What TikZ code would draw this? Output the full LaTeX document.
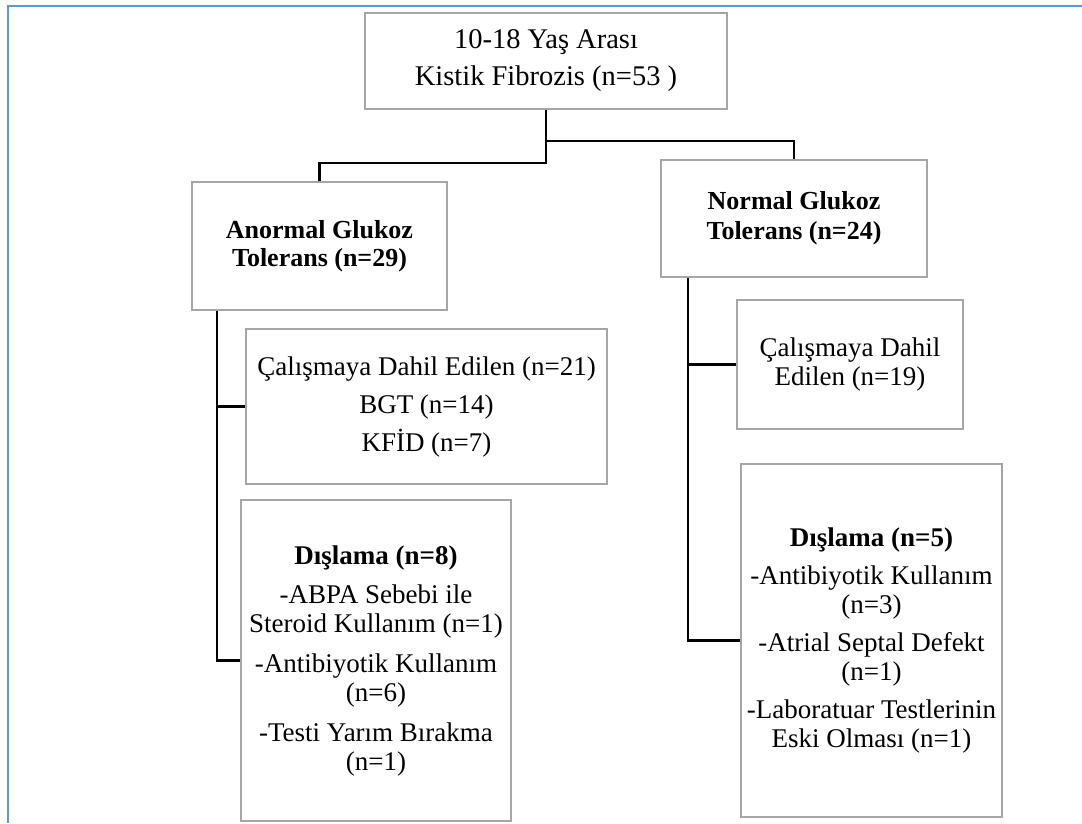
\documentclass[tikz,border=0pt]{standalone}
\usepackage{fontspec}
\setmainfont{Liberation Serif}
\usetikzlibrary{positioning}
\definecolor{boxgray}{HTML}{A6A6A6}
\definecolor{frameblue}{HTML}{5B9BD5}
\tikzset{
  box/.style={draw=boxgray, line width=2.4pt, align=center, inner sep=0pt,
    font=\fontsize{27}{29}\selectfont},
  conn/.style={draw=black, line width=2.4pt},
}
\begin{document}
\begin{tikzpicture}[x=1pt,y=-1pt]
\useasboundingbox (0,0) rectangle (1082,823);
\fill[white] (0,0) rectangle (1082,823);
\draw[frameblue, line width=2pt] (1082,5.5) -- (8,5.5) -- (8,823);

\node[box, minimum width=362, minimum height=96, font=\fontsize{28.5}{31}\selectfont] (top) at (546,61)
  {10-18 Yaş Arası\\[6pt]Kistik Fibrozis (n=53 )};
\node[box, minimum width=255, minimum height=128, font=\fontsize{26}{28}\selectfont\bfseries] (anormal) at (319.5,246)
  {Anormal Glukoz\\Tolerans (n=29)};
\node[box, minimum width=266, minimum height=117, font=\fontsize{26}{30}\selectfont\bfseries] (normal) at (794,218.5)
  {Normal Glukoz\\Tolerans (n=24)};
\node[box, minimum width=361, minimum height=155] (cal1) at (426.5,406.5)
  {Çalışmaya Dahil Edilen (n=21)\\[9pt]BGT (n=14)\\[9pt]KFİD (n=7)};
\node[box, minimum width=270, minimum height=321] (dis1) at (376,660.5)
  {\textbf{Dışlama (n=8)}\\[10pt]-ABPA Sebebi ile\\Steroid Kullanım (n=1)\\[11pt]-Antibiyotik Kullanım\\(n=6)\\[11pt]-Testi Yarım Bırakma\\(n=1)};
\node[box, minimum width=226, minimum height=129] (cal2) at (850,364.5)
  {Çalışmaya Dahil\\Edilen (n=19)};
\node[box, minimum width=261, minimum height=353] (dis2) at (871.5,640.5)
  {\textbf{Dışlama (n=5)}\\[9pt]-Antibiyotik Kullanım\\(n=3)\\[9pt]-Atrial Septal Defekt\\(n=1)\\[9pt]-Laboratuar Testlerinin\\Eski Olması (n=1)};

\draw[conn] (top.south) -- ++(0,53) -| (anormal.north);
\draw[conn] (top.south) ++(0,31) -| (normal.north);
\draw[conn] ([xshift=-102.5pt]anormal.south) |- (dis1.west);
\draw[conn] ([xshift=-102.5pt]anormal.south) |- (cal1.west);
\draw[conn] ([xshift=-106pt]normal.south) |- (dis2.west);
\draw[conn] ([xshift=-106pt]normal.south) |- (cal2.west);
\end{tikzpicture}
\end{document}
